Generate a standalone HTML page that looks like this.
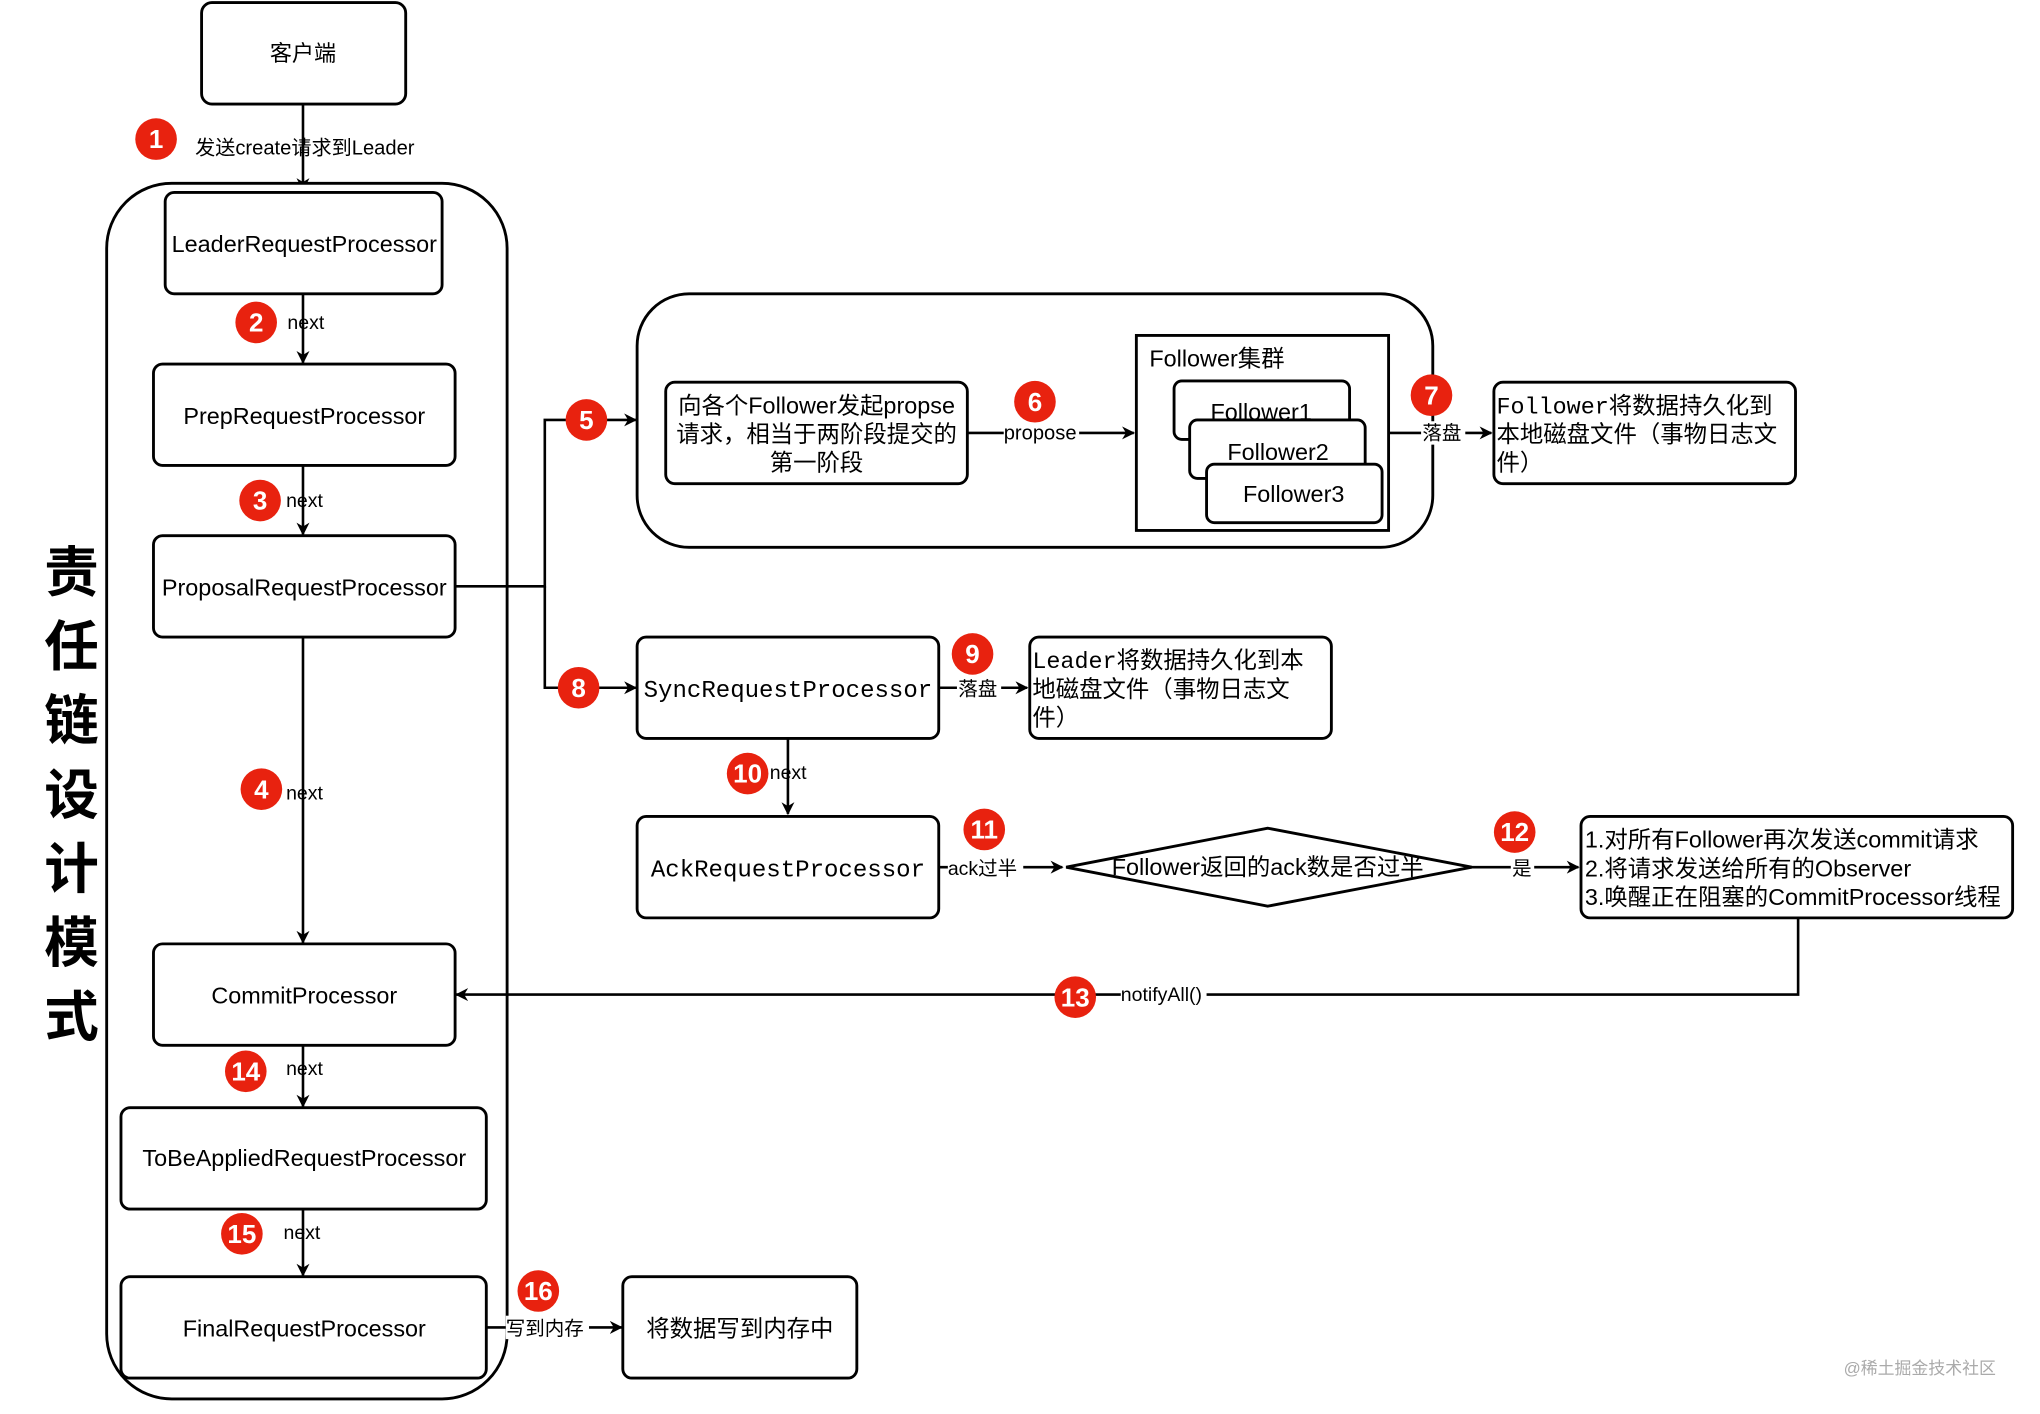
<!DOCTYPE html>
<html><head><meta charset="utf-8"><style>
html,body{margin:0;padding:0;background:#fff;}
svg{display:block}
text{font-family:"Liberation Sans","Noto Sans CJK SC",sans-serif;fill:#000}
.m{font-family:"Liberation Mono","Noto Sans CJK SC",monospace}
.b{fill:#fff;stroke:#000;stroke-width:2.2}
.l{stroke:#000;stroke-width:2;fill:none}
.bd{fill:#e8220f}
.bt{fill:#fff;font-size:20px;font-weight:bold;text-anchor:middle}
</style></head><body>
<svg width="2040" height="1414" viewBox="0 0 1569 1087.6" xmlns="http://www.w3.org/2000/svg">
<defs><marker id="a" markerWidth="10" markerHeight="10" refX="9" refY="5" orient="auto" markerUnits="userSpaceOnUse"><path d="M0,0 L10,5 L0,10 L3,5 z" fill="#000"/></marker></defs>
<rect width="1569" height="1088" fill="#fff"/>
<!-- client -->
<rect class="b" x="155" y="2" width="157" height="78" rx="8"/>
<text x="233" y="47" font-size="17" text-anchor="middle">客户端</text>
<line class="l" x1="233" y1="80" x2="233" y2="146" marker-end="url(#a)"/>
<text x="150" y="119" font-size="15.5">发送create请求到Leader</text>
<!-- container -->
<rect class="b" x="82" y="141" width="308" height="935" rx="50" fill="none"/>
<g font-size="18" text-anchor="middle">
<rect class="b" x="127" y="148" width="213" height="78" rx="7"/><text x="234" y="194">LeaderRequestProcessor</text>
<rect class="b" x="118" y="280" width="232" height="78" rx="7"/><text x="234" y="326">PrepRequestProcessor</text>
<rect class="b" x="118" y="412" width="232" height="78" rx="7"/><text x="234" y="458">ProposalRequestProcessor</text>
<rect class="b" x="118" y="726" width="232" height="78" rx="7"/><text x="234" y="772">CommitProcessor</text>
<rect class="b" x="93" y="852" width="281" height="78" rx="7"/><text x="234" y="897">ToBeAppliedRequestProcessor</text>
<rect class="b" x="93" y="982" width="281" height="78" rx="7"/><text x="234" y="1028">FinalRequestProcessor</text>
<rect class="b" x="479" y="982" width="180" height="78" rx="7"/><text x="569" y="1028">将数据写到内存中</text>
</g>
<g class="l">
<line x1="233" y1="226" x2="233" y2="279" marker-end="url(#a)"/>
<line x1="233" y1="358" x2="233" y2="411" marker-end="url(#a)"/>
<line x1="233" y1="490" x2="233" y2="725" marker-end="url(#a)"/>
<line x1="233" y1="804" x2="233" y2="851" marker-end="url(#a)"/>
<line x1="233" y1="930" x2="233" y2="981" marker-end="url(#a)"/>
<line x1="374" y1="1021" x2="478" y2="1021" marker-end="url(#a)"/>
</g>
<g font-size="15">
<text x="221" y="253">next</text><text x="220" y="390">next</text><text x="220" y="615">next</text>
<text x="220" y="827">next</text><text x="218" y="953">next</text>
<rect x="389" y="1012" width="64" height="18" fill="#fff"/><text x="389" y="1027">写到内存</text>
</g>
<g font-size="42" font-weight="bold" text-anchor="middle" font-family="Noto Sans CJK SC,sans-serif">
<text x="55" y="455">责</text><text x="55" y="512">任</text><text x="55" y="569">链</text><text x="55" y="626">设</text><text x="55" y="683">计</text><text x="55" y="740">模</text><text x="55" y="797">式</text>
</g>
<!-- branch -->
<polyline class="l" points="350,451 419,451 419,323 489,323" marker-end="url(#a)"/>
<polyline class="l" points="419,451 419,529 489,529" marker-end="url(#a)"/>
<rect class="b" x="490" y="226" width="612" height="195" rx="40" fill="none"/>
<rect class="b" x="512" y="294" width="232" height="78" rx="7"/>
<g font-size="18" text-anchor="middle"><text x="628" y="318">向各个Follower发起propse</text><text x="628" y="340">请求，相当于两阶段提交的</text><text x="628" y="362">第一阶段</text></g>
<line class="l" x1="744" y1="333" x2="872" y2="333" marker-end="url(#a)"/>
<rect x="772" y="324" width="58" height="18" fill="#fff"/><text x="772" y="338" font-size="15.5">propose</text>
<rect x="874" y="258" width="194" height="150" fill="#fff" stroke="#000" stroke-width="2.2"/>
<text x="884" y="282" font-size="18">Follower集群</text>
<g font-size="18" text-anchor="middle">
<rect class="b" x="903" y="293" width="135" height="45" rx="6"/><text x="970" y="323">Follower1</text>
<rect class="b" x="915" y="323" width="135" height="45" rx="6"/><text x="983" y="354">Follower2</text>
<rect class="b" x="928" y="357" width="135" height="45" rx="6"/><text x="995" y="386">Follower3</text>
</g>
<line class="l" x1="1068" y1="333" x2="1147" y2="333" marker-end="url(#a)"/>
<rect x="1093" y="324" width="34" height="18" fill="#fff"/><text x="1094" y="338" font-size="15">落盘</text>
<rect class="b" x="1149" y="294" width="232" height="78" rx="7"/>
<g font-size="18"><text class="m" x="1151" y="318">Follower将数据持久化到</text><text class="m" x="1151" y="340">本地磁盘文件（事物日志文</text><text class="m" x="1151" y="362">件）</text></g>
<rect class="b" x="490" y="490" width="232" height="78" rx="7"/>
<text class="m" x="606" y="536" font-size="18.5" text-anchor="middle">SyncRequestProcessor</text>
<line class="l" x1="722" y1="529" x2="790" y2="529" marker-end="url(#a)"/>
<rect x="736" y="520" width="34" height="18" fill="#fff"/><text x="737" y="535" font-size="15">落盘</text>
<rect class="b" x="792" y="490" width="232" height="78" rx="7"/>
<g font-size="18"><text class="m" x="794" y="514">Leader将数据持久化到本</text><text class="m" x="794" y="536">地磁盘文件（事物日志文</text><text class="m" x="794" y="558">件）</text></g>
<line class="l" x1="606" y1="568" x2="606" y2="626" marker-end="url(#a)"/>
<text x="592" y="599" font-size="15">next</text>
<rect class="b" x="490" y="628" width="232" height="78" rx="7"/>
<text class="m" x="606" y="674" font-size="18.5" text-anchor="middle">AckRequestProcessor</text>
<line class="l" x1="722" y1="667" x2="817" y2="667" marker-end="url(#a)"/>
<rect x="729" y="658" width="58" height="18" fill="#fff"/><text x="729" y="673" font-size="15">ack过半</text>
<polygon class="b" points="820,667 975,637 1132,667 975,697"/>
<text x="975" y="673" font-size="18" text-anchor="middle">Follower返回的ack数是否过半</text>
<line class="l" x1="1132" y1="667" x2="1214" y2="667" marker-end="url(#a)"/>
<rect x="1162" y="658" width="18" height="18" fill="#fff"/><text x="1163" y="673" font-size="15">是</text>
<rect class="b" x="1216" y="628" width="332" height="78" rx="7"/>
<g font-size="18"><text x="1219" y="652">1.对所有Follower再次发送commit请求</text><text x="1219" y="674">2.将请求发送给所有的Observer</text><text x="1219" y="696">3.唤醒正在阻塞的CommitProcessor线程</text></g>
<polyline class="l" points="1383,706 1383,765 351,765" marker-end="url(#a)"/>
<rect x="862" y="756" width="66" height="18" fill="#fff"/><text x="862" y="770" font-size="15">notifyAll()</text>
<!-- badges -->
<g>
<circle class="bd" cx="120" cy="107" r="16"/><text class="bt" x="120" y="114">1</text>
<circle class="bd" cx="197" cy="248" r="16"/><text class="bt" x="197" y="255">2</text>
<circle class="bd" cx="200" cy="385" r="16"/><text class="bt" x="200" y="392">3</text>
<circle class="bd" cx="201" cy="607" r="16"/><text class="bt" x="201" y="614">4</text>
<circle class="bd" cx="451" cy="323" r="16"/><text class="bt" x="451" y="330">5</text>
<circle class="bd" cx="796" cy="309" r="16"/><text class="bt" x="796" y="316">6</text>
<circle class="bd" cx="1101" cy="304" r="16"/><text class="bt" x="1101" y="311">7</text>
<circle class="bd" cx="445" cy="529" r="16"/><text class="bt" x="445" y="536">8</text>
<circle class="bd" cx="748" cy="503" r="16"/><text class="bt" x="748" y="510">9</text>
<circle class="bd" cx="575" cy="595" r="16"/><text class="bt" x="575" y="602">10</text>
<circle class="bd" cx="757" cy="638" r="16"/><text class="bt" x="757" y="645">11</text>
<circle class="bd" cx="1165" cy="640" r="16"/><text class="bt" x="1165" y="647">12</text>
<circle class="bd" cx="827" cy="767" r="16"/><text class="bt" x="827" y="774">13</text>
<circle class="bd" cx="189" cy="824" r="16"/><text class="bt" x="189" y="831">14</text>
<circle class="bd" cx="186" cy="949" r="16"/><text class="bt" x="186" y="956">15</text>
<circle class="bd" cx="414" cy="993" r="16"/><text class="bt" x="414" y="1000">16</text>
</g>
<text x="1418" y="1057" font-size="13" style="fill:#aaa">@稀土掘金技术社区</text>
</svg>
</body></html>
